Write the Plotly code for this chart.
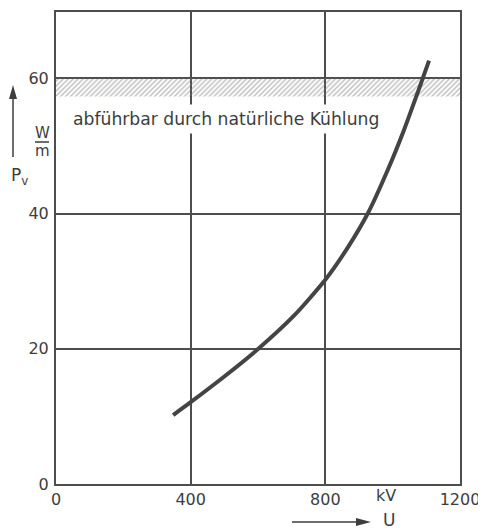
import plotly.graph_objects as go

# Data
U_kV = [348, 400, 500, 601, 709, 800, 867, 926, 985, 1034, 1078, 1108]
Pv_Wm = [10.2, 12.1, 15.9, 20.0, 25.0, 30.2, 35.0, 40.0, 46.4, 52.4, 58.4, 62.6]

band_x = [0, 1200]
band_low = 57.3
band_high = 60.0

x_ticks = [0, 400, 800, 1200]
y_ticks = [0, 20, 40, 60]

band_label = "abführbar durch natürliche Kühlung"

# page geometry (the page body adds an 8 px offset)
OFF = 8
PAGE_W, PAGE_H = 486, 530
PL, PR, PT, PB = 56, 460, 12, 484   # plot area in page pixels
W, H = PAGE_W - OFF, PAGE_H - OFF
L, T = PL - OFF, PT - OFF
R, B = W - (PR - OFF), H - (PB - OFF)
PW, PH = PR - PL, PB - PT

def px(xp):
    return (xp - PL) / PW

def py(yp):
    return (PB - yp) / PH

LINE = "#4d4d4d"
TXT = "#3d3d3d"
FONT = "DejaVu Sans, sans-serif"

fig = go.Figure()

# hatched band
fig.add_trace(go.Scatter(
    x=[band_x[0], band_x[1], band_x[1], band_x[0], band_x[0]],
    y=[band_low, band_low, band_high, band_high, band_low],
    mode="lines", fill="toself", line=dict(width=0, color="rgba(0,0,0,0)"),
    fillcolor="rgba(0,0,0,0)",
    fillpattern=dict(shape="/", fgcolor="#7a7a7a", bgcolor="rgba(0,0,0,0)", size=3.5, solidity=0.4),
    hoverinfo="skip", showlegend=False,
))

# curve
fig.add_trace(go.Scatter(
    x=U_kV, y=Pv_Wm, mode="lines",
    line=dict(color="#444444", width=4, shape="spline", smoothing=0.6),
    showlegend=False,
))

fig.update_xaxes(
    range=[0, 1200], tickvals=x_ticks, ticktext=[str(v) for v in x_ticks],
    showgrid=True, gridcolor=LINE, gridwidth=2, zeroline=False,
    showline=True, linecolor=LINE, linewidth=2, mirror=True, automargin=False,
    ticks="", tickfont=dict(family=FONT, size=16, color=TXT),
)
fig.update_yaxes(
    range=[0, 69.8], tickvals=y_ticks, ticktext=[str(v) for v in y_ticks],
    showgrid=True, gridcolor=LINE, gridwidth=2, zeroline=False,
    showline=True, linecolor=LINE, linewidth=2, mirror=True, automargin=False,
    ticks="", tickfont=dict(family=FONT, size=16, color=TXT), ticklabelstandoff=2,
)

def label(x, y, text, size, xanchor="center"):
    return dict(x=px(x), y=py(y), xref="paper", yref="paper", xanchor=xanchor, yanchor="middle",
                text=text, showarrow=False, font=dict(family=FONT, size=size, color=TXT))

ann = []
band = label(68, 119, band_label, 17.2, xanchor="left")
band.update(bgcolor="white", borderpad=4)
ann.append(band)
ann.append(label(42, 133, "W", 15))
ann.append(label(42, 151, "m", 15))
ann.append(label(19, 177, "P<sub>v</sub>", 17))
ann.append(label(386, 496, "kV", 16))
ann.append(label(389, 520, "U", 17))

def tri(p1, p2, p3):
    s = "M {} {}".format(px(p1[0]), py(p1[1]))
    for p in (p2, p3):
        s += " L {} {}".format(px(p[0]), py(p[1]))
    return s + " Z"

AX = 13  # x of the upward arrow (page pixels)
shapes = [
    # fraction bar of W/m
    dict(type="line", xref="paper", yref="paper", x0=px(35), x1=px(49), y0=py(142), y1=py(142),
         line=dict(color=TXT, width=1.5)),
    # upward arrow next to P_v
    dict(type="line", xref="paper", yref="paper", x0=px(AX), x1=px(AX), y0=py(157), y1=py(96),
         line=dict(color=TXT, width=1.5)),
    dict(type="path", xref="paper", yref="paper", path=tri((AX, 85), (AX - 4, 99), (AX + 4, 99)),
         fillcolor=TXT, line=dict(width=0)),
    # rightward arrow next to U
    dict(type="line", xref="paper", yref="paper", x0=px(292), x1=px(358), y0=py(522), y1=py(522),
         line=dict(color=TXT, width=1.5)),
    dict(type="path", xref="paper", yref="paper", path=tri((371, 522), (356, 518), (356, 526)),
         fillcolor=TXT, line=dict(width=0)),
]

fig.update_layout(
    width=W, height=H, margin=dict(l=L, r=R, t=T, b=B),
    paper_bgcolor="white", plot_bgcolor="white",
    annotations=ann, shapes=shapes,
)

fig.write_html("out.html")
